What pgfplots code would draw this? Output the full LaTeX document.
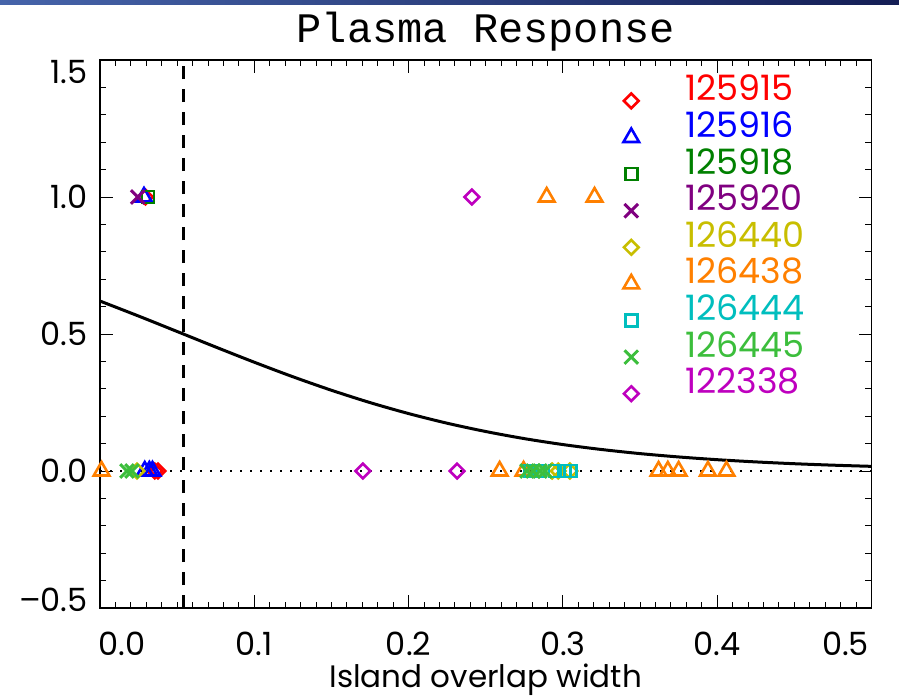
\documentclass[border=0pt]{standalone}
\usepackage{fontspec}
\setmainfont{Poppins}
\newfontfamily\titlefont{Liberation Mono}
\usepackage{pgfplots}
\pgfplotsset{compat=1.18}
\definecolor{cRed}{RGB}{255,0,0}
\definecolor{cBlue}{RGB}{0,0,255}
\definecolor{cDkGreen}{RGB}{0,128,0}
\definecolor{cPurple}{RGB}{128,0,128}
\definecolor{cYellow}{RGB}{200,190,0}
\definecolor{cOrange}{RGB}{255,128,0}
\definecolor{cCyan}{RGB}{0,190,190}
\definecolor{cGreen}{RGB}{60,190,60}
\definecolor{cMagenta}{RGB}{190,0,190}
\definecolor{barL}{RGB}{70,100,170}
\definecolor{barR}{RGB}{20,30,85}
\pgfplotsset{
  mdia/.style={only marks, mark=square, mark size=2.6pt, mark options={rotate=45, line width=1.3pt, solid}},
  mtri/.style={only marks, mark=triangle, mark size=4.5pt, mark options={line width=1.3pt, solid}},
  msq/.style={only marks, mark=square, mark size=3pt, mark options={line width=1.3pt, solid}},
  mx/.style={only marks, mark=x, mark size=4.8pt, mark options={line width=1.5pt, solid}},
}
\begin{document}
\begin{tikzpicture}
\useasboundingbox (0,0) rectangle (449.5pt,349pt);
\shade[left color=barL, right color=barR] (0,346.5pt) rectangle (449.5pt,349pt);
\begin{axis}[
  at={(50pt,45pt)}, anchor=south west,
  scale only axis, width=385.75pt, height=274pt,
  xmin=0, xmax=0.5, ymin=-0.5, ymax=1.5,
  xtick={0,0.1,0.2,0.3,0.4,0.5},
  xticklabels={\hspace*{22pt}0.0,0.1,0.2,0.3,0.4,0.5\hspace*{26pt}},
  minor x tick num=9,
  ytick={-0.5,0,0.5,1,1.5},
  yticklabels={\raisebox{4pt}[\height][\depth]{--0.5},0.0,0.5,1.0,\raisebox{-6pt}[\height][\depth]{1.5}},
  minor y tick num=4,
  tick align=inside,
  major tick length=6.5pt, minor tick length=3.2pt,
  every tick/.style={black, line width=0.5pt},
  axis line style={black, line width=0.6pt},
  xticklabel style={font=\fontsize{16}{18}\selectfont, inner sep=0pt, anchor=north, yshift=-12pt},
  yticklabel style={font=\fontsize{16}{18}\selectfont, inner sep=0pt, anchor=east, xshift=-6pt},
  title={\titlefont Plasma Response},
  title style={at={(0.5,1)}, anchor=center, yshift=8pt, font=\fontsize{21}{23}\selectfont},
  xlabel={Island overlap width},
  every axis x label/.style={at={(axis description cs:0.5,0)}, anchor=center, yshift=-35.8pt, font=\fontsize{15.5}{17}\selectfont},
  legend style={draw=none, fill=none, inner sep=0pt, at={(0.678,0.971)}, anchor=north west,
    font=\fontsize{17.5}{19}\selectfont,
    cells={anchor=base west},
    nodes={inner sep=0pt, text height=12.3pt, text depth=6pt},
    row sep=0pt,
    /tikz/every odd column/.append style={column sep=23pt}},
]
% fitted response curve
\addplot[forget plot, black, line width=1.5pt, smooth] coordinates {
(0,0.6203)(0.025,0.5655)(0.05,0.5091)(0.075,0.4524)(0.1,0.3970)(0.125,0.3440)
(0.15,0.2947)(0.175,0.2497)(0.2,0.2096)(0.225,0.1744)(0.25,0.1441)(0.275,0.1182)
(0.3,0.0965)(0.325,0.0785)(0.35,0.0635)(0.375,0.0513)(0.4,0.0413)(0.425,0.0332)
(0.45,0.0266)(0.475,0.0213)(0.5,0.0170)};
\addplot[forget plot, black, line width=1.3pt, dash pattern=on 6.5pt off 5pt] coordinates {(0.054,-0.5)(0.054,1.5)};
\addplot[forget plot, black, line width=1.3pt, dash pattern=on 1.2pt off 3.8pt] coordinates {(0,0)(0.5,0)};
% 125915
\addplot[cRed, mdia] coordinates {(0.0355,0)(0.0376,0)(0.0295,1)};
\addlegendentry{\textcolor{cRed}{125915}}
% 125916
\addplot[cBlue, mtri] coordinates {(0.029,0)(0.032,0)(0.034,0)(0.0285,1)};
\addlegendentry{\textcolor{cBlue}{125916}}
% 125918
\addplot[cDkGreen, msq] coordinates {(0.0311,1)};
\addlegendentry{\textcolor{cDkGreen}{125918}}
% 125920
\addplot[cPurple, mx] coordinates {(0.0245,1)};
\addlegendentry{\textcolor{cPurple}{125920}}
% 126440
\addplot[cYellow, mdia] coordinates {(0.024,0)(0.293,0)(0.297,0)(0.3045,0)};
\addlegendentry{\textcolor{cYellow}{126440}}
% 126438
\addplot[cOrange, mtri] coordinates {(0.001,0)(0.259,0)(0.2745,0)(0.362,0)(0.368,0)(0.375,0)(0.394,0)(0.406,0)(0.2895,1)(0.3205,1)};
\addlegendentry{\textcolor{cOrange}{126438}}
% 126444
\addplot[cCyan, msq] coordinates {(0.279,0)(0.285,0)(0.295,0)(0.301,0)(0.305,0)};
\addlegendentry{\textcolor{cCyan}{126444}}
% 126445
\addplot[cGreen, mx] coordinates {(0.0175,0)(0.0207,0)(0.2767,0)(0.2806,0)(0.2852,0)(0.2884,0)};
\addlegendentry{\textcolor{cGreen}{126445}}
% 122338
\addplot[cMagenta, mdia] coordinates {(0.1704,0)(0.2314,0)(0.241,1)};
\addlegendentry{\textcolor{cMagenta}{122338}}
\end{axis}
\end{tikzpicture}
\end{document}
